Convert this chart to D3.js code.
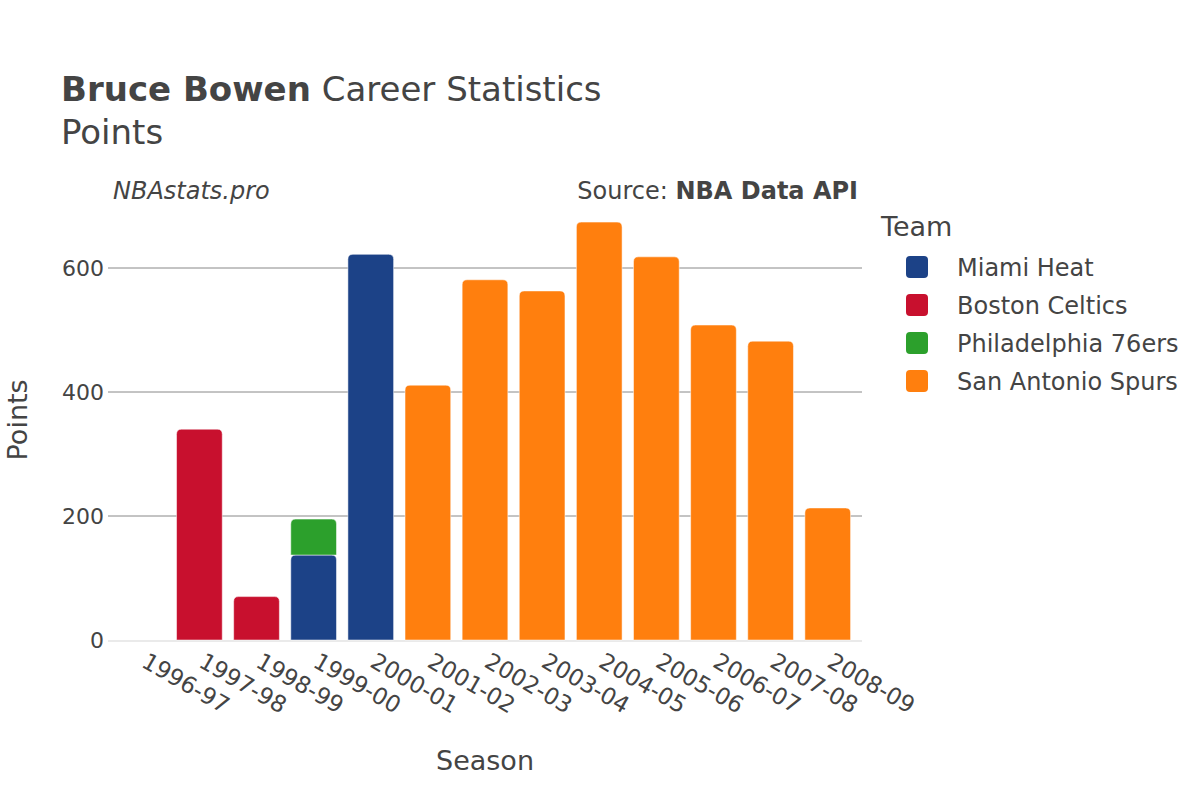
<!DOCTYPE html>
<html>
<head>
<meta charset="utf-8">
<script src="https://cdn.jsdelivr.net/npm/d3@7"></script>
<style>
  body { margin: 0; background: #fff; }
  svg { font-family: "DejaVu Sans", sans-serif; }
</style>
</head>
<body>
<div id="chart"></div>
<script>
var width = 1200, height = 800;

var seasons = ['1996-97', '1997-98', '1998-99', '1999-00', '2000-01', '2001-02', '2002-03',
  '2003-04', '2004-05', '2005-06', '2006-07', '2007-08', '2008-09'];
var teams = ['Miami Heat', 'Boston Celtics', 'Philadelphia 76ers', 'San Antonio Spurs'];
var teamColors = ['#1c4287', '#c8102e', '#2ca02c', '#ff7f0e'];
var miami = [0, 0, 0, 137, 622, 0, 0, 0, 0, 0, 0, 0, 0];
var boston = [0, 340, 70, 0, 0, 0, 0, 0, 0, 0, 0, 0, 0];
var philly = [0, 0, 0, 58, 0, 0, 0, 0, 0, 0, 0, 0, 0];
var spurs = [0, 0, 0, 0, 0, 411, 581, 563, 674, 618, 508, 482, 213];
var yTicks = [0, 200, 400, 600];

var series = [miami, boston, philly, spurs];
var rows = seasons.map(function(s, i) {
  var r = { season: s };
  teams.forEach(function(t, j) { r[t] = series[j][i]; });
  return r;
});
var stacked = d3.stack().keys(teams)(rows);

var margin = { left: 108, right: 338, top: 206, bottom: 160 };
var x = d3.scaleBand().domain(seasons).range([margin.left, width - margin.right]).padding(0.2);
var y = d3.scaleLinear().domain([0, 700]).range([height - margin.bottom, margin.top]);

var svg = d3.select('#chart').append('svg').attr('width', width).attr('height', height);
var textColor = '#444';

// grid
svg.append('g').selectAll('line').data(yTicks.filter(function(d) { return d > 0; })).enter()
  .append('line')
  .attr('x1', margin.left).attr('x2', width - margin.right)
  .attr('y1', function(d) { return y(d); }).attr('y2', function(d) { return y(d); })
  .attr('stroke', '#888').attr('stroke-width', 1);
svg.append('line')
  .attr('x1', margin.left).attr('x2', width - margin.right)
  .attr('y1', y(0) + 1).attr('y2', y(0) + 1)
  .attr('stroke', '#eaeaea').attr('stroke-width', 2);

// bars with rounded top
function barPath(x0, y0, w, h, r) {
  if (h <= 0) return '';
  r = Math.min(r, h, w / 2);
  return 'M' + x0 + ',' + (y0 + h) + 'V' + (y0 + r) +
    'Q' + x0 + ',' + y0 + ' ' + (x0 + r) + ',' + y0 +
    'H' + (x0 + w - r) + 'Q' + (x0 + w) + ',' + y0 + ' ' + (x0 + w) + ',' + (y0 + r) +
    'V' + (y0 + h) + 'Z';
}
stacked.forEach(function(layer, j) {
  svg.append('g').selectAll('path').data(layer).enter().append('path')
    .attr('d', function(d) {
      var top = y(d[1]), bot = y(d[0]);
      return barPath(x(d.data.season), top, x.bandwidth(), bot - top, 5);
    })
    .attr('fill', teamColors[j])
    .attr('stroke', '#fff').attr('stroke-width', 0.5);
});

// y axis labels
svg.append('g').selectAll('text').data(yTicks).enter().append('text')
  .attr('x', margin.left - 4).attr('y', function(d) { return y(d); })
  .attr('dy', '0.36em').attr('text-anchor', 'end')
  .attr('font-size', 22).attr('fill', textColor)
  .text(function(d) { return d; });

// x axis labels
svg.append('g').selectAll('text').data(seasons).enter().append('text')
  .attr('transform', function(d) {
    return 'translate(' + (x(d) + x.bandwidth() / 2 - 2) + ',' + (height - margin.bottom + 26) + ') rotate(30)';
  })
  .attr('text-anchor', 'start')
  .attr('font-size', 23).attr('fill', textColor)
  .text(function(d) { return d; });

// axis titles
svg.append('text').attr('x', (margin.left + width - margin.right) / 2).attr('y', 770)
  .attr('text-anchor', 'middle').attr('font-size', 27).attr('fill', textColor).text('Season');
svg.append('text').attr('transform', 'translate(27,' + y(355) + ') rotate(-90)')
  .attr('text-anchor', 'middle').attr('font-size', 27).attr('fill', textColor).text('Points');

// titles
var title = svg.append('text').attr('x', 61).attr('y', 101).attr('font-size', 34).attr('fill', textColor);
title.append('tspan').attr('font-weight', 'bold').text('Bruce Bowen');
title.append('tspan').text(' Career Statistics');
svg.append('text').attr('x', 61).attr('y', 144).attr('font-size', 34).attr('fill', textColor).text('Points');

svg.append('text').attr('x', 113).attr('y', 199).attr('font-size', 24).attr('font-style', 'italic')
  .attr('fill', textColor).text('NBAstats.pro');
var src = svg.append('text').attr('x', 858).attr('y', 199).attr('font-size', 24)
  .attr('text-anchor', 'end').attr('fill', textColor);
src.append('tspan').text('Source: ');
src.append('tspan').attr('font-weight', 'bold').text('NBA Data API');

// legend
var legend = svg.append('g').attr('transform', 'translate(881,0)');
legend.append('text').attr('x', 0).attr('y', 236).attr('font-size', 27).attr('fill', textColor).text('Team');
var items = legend.selectAll('g.item').data(teams).enter().append('g').attr('class', 'item')
  .attr('transform', function(d, i) { return 'translate(0,' + (267 + i * 38) + ')'; });
items.append('rect').attr('x', 25).attr('y', -11).attr('width', 22).attr('height', 22)
  .attr('rx', 4).attr('fill', function(d, i) { return teamColors[i]; });
items.append('text').attr('x', 76).attr('dy', '0.36em').attr('font-size', 24)
  .attr('fill', textColor).text(function(d) { return d; });
</script>
</body>
</html>
